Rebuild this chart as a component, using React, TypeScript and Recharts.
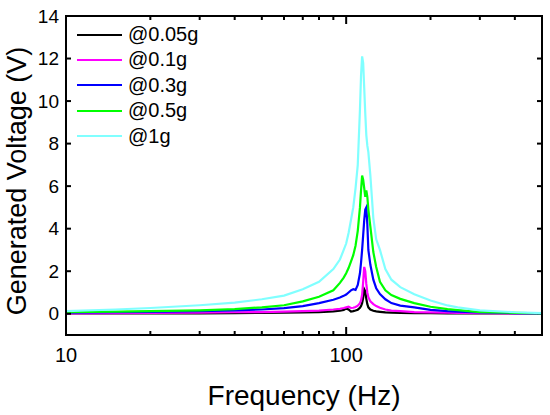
import React from "react";
import { LineChart, Line, XAxis, YAxis, ReferenceLine } from "recharts";

// frequency grid (Hz) shared by every sweep
const freqs = [
  10, 15, 20, 30, 40, 50, 60, 70, 80, 90, 95, 98, 100, 102, 104, 106, 108, 110,
  112, 113, 114, 115, 116, 117, 118, 119, 120, 122, 125, 128, 132, 138, 145,
  156, 175, 200, 230, 250, 300, 400, 500,
];

// generated voltage (V) per excitation level
const v005 = [
  0.01, 0.01, 0.02, 0.02, 0.03, 0.04, 0.05, 0.06, 0.08, 0.11, 0.14, 0.18, 0.24,
  0.2, 0.1, 0.12, 0.15, 0.19, 0.28, 0.36, 0.5, 0.75, 1.15, 1.05, 0.7, 0.45,
  0.3, 0.2, 0.14, 0.11, 0.09, 0.06, 0.05, 0.04, 0.03, 0.03, 0.02, 0.02, 0.02,
  0.01, 0.01,
];
const v01 = [
  0.02, 0.03, 0.04, 0.05, 0.07, 0.08, 0.1, 0.12, 0.15, 0.2, 0.23, 0.27, 0.3,
  0.33, 0.27, 0.28, 0.32, 0.38, 0.5, 0.62, 0.9, 1.5, 2.2, 2.0, 1.4, 1.0, 0.78,
  0.58, 0.45, 0.36, 0.28, 0.2, 0.15, 0.12, 0.08, 0.06, 0.05, 0.04, 0.03, 0.02,
  0.01,
];
const v03 = [
  0.05, 0.07, 0.09, 0.12, 0.16, 0.2, 0.26, 0.36, 0.5, 0.66, 0.76, 0.84, 0.9,
  1.0, 1.1, 1.15, 1.12, 1.35, 1.9, 2.4, 3.0, 3.7, 4.4, 4.9, 5.0, 4.2, 3.0, 2.3,
  1.6, 1.2, 0.92, 0.68, 0.5, 0.38, 0.3, 0.18, 0.12, 0.1, 0.06, 0.03, 0.02,
];
const v05 = [
  0.08, 0.1, 0.12, 0.16, 0.22, 0.3, 0.4, 0.58, 0.8, 1.1, 1.45, 1.7, 1.9, 2.15,
  2.45, 2.75, 3.2, 3.9, 5.0, 5.8, 6.5, 6.3, 5.9, 5.5, 5.8, 5.5, 4.9, 4.1, 2.9,
  2.2, 1.5, 1.1, 0.88, 0.7, 0.5, 0.33, 0.22, 0.17, 0.08, 0.04, 0.02,
];
const v1 = [
  0.12, 0.2, 0.27, 0.4, 0.52, 0.68, 0.85, 1.15, 1.5, 2.1, 2.55, 3.0, 3.3, 3.8,
  4.4, 5.0, 5.9, 7.0, 9.6, 11.2, 12.1, 11.8, 10.6, 9.4, 8.4, 7.9, 7.6, 6.5,
  4.5, 3.5, 3.0, 2.1, 1.6, 1.25, 0.92, 0.62, 0.39, 0.3, 0.16, 0.07, 0.03,
];

const seriesNames = ["@0.05g", "@0.1g", "@0.3g", "@0.5g", "@1g"];
const seriesKeys = ["g005", "g01", "g03", "g05", "g1"];
const seriesColors = ["#000000", "#ff00ff", "#0000ff", "#00ff00", "#80ffff"];
const seriesValues = [v005, v01, v03, v05, v1];

const xTicks = [10, 20, 30, 40, 50, 60, 70, 80, 90, 100, 200, 300, 400, 500];
const xLabeled = [10, 100];
const yTicks = [0, 2, 4, 6, 8, 10, 12, 14];

const data = freqs.map((f, i) => {
  const row: Record<string, number> = { f };
  seriesKeys.forEach((k, s) => {
    row[k] = seriesValues[s][i];
  });
  return row;
});

const BottomTick = (props: any) => {
  const { x, y, payload } = props;
  const major = xLabeled.includes(payload.value);
  return (
    <g>
      <path d={`M${x},${y}V${y - (major ? 8 : 4)}`} stroke="#000" strokeWidth={2} fill="none" />
      {major && (
        <text x={x} y={y + 27} textAnchor="middle" fontSize={20} fill="#000">
          {payload.value}
        </text>
      )}
    </g>
  );
};

const LeftTick = (props: any) => {
  const { x, y, payload } = props;
  return (
    <g>
      <path d={`M${x},${y}H${x + 5}`} stroke="#000" strokeWidth={2} fill="none" />
      <text x={x - 7} y={y} dy="0.35em" textAnchor="end" fontSize={19} fill="#000">
        {payload.value}
      </text>
    </g>
  );
};

// short inward tick on the top edge, at the reference line's x
const topTickShape = (len: number) => (p: any) => {
  const top = Math.min(p.y1, p.y2);
  return <path d={`M${p.x1},${top}V${top + len}`} stroke="#000" strokeWidth={2} fill="none" />;
};

// short inward tick on the right edge, at the reference line's y
const rightTickShape = (p: any) => {
  const right = Math.max(p.x1, p.x2);
  return <path d={`M${right},${p.y1}H${right - 5}`} stroke="#000" strokeWidth={2} fill="none" />;
};

const LegendBox = () => (
  <div style={{ position: "absolute", left: 77, top: 22, fontSize: 20, lineHeight: "25.4px" }}>
    {seriesNames.map((n, i) => (
      <div key={n} style={{ display: "flex", alignItems: "center", height: 25.4 }}>
        <div style={{ width: 45, height: 2, background: seriesColors[i], marginRight: 6 }} />
        <span>{n}</span>
      </div>
    ))}
  </div>
);

export default function App() {
  return (
    <div
      style={{
        position: "absolute",
        left: 0,
        top: 0,
        width: 550,
        height: 415,
        background: "#fff",
        fontFamily: "Liberation Sans, Arial, sans-serif",
      }}
    >
      <LineChart width={550} height={415} data={data} margin={{ top: 16, right: 8, bottom: 0, left: 0 }}>
        <XAxis
          xAxisId="b"
          dataKey="f"
          type="number"
          scale="log"
          domain={[10, 500]}
          allowDataOverflow
          ticks={xTicks}
          interval={0}
          height={80}
          tickSize={0}
          tickMargin={0}
          stroke="#000"
          tick={<BottomTick />}
          label={{
            content: () => (
              <text x={304} y={405} textAnchor="middle" fontSize={28} fill="#000">
                Frequency (Hz)
              </text>
            ),
          }}
        />
        <YAxis
          yAxisId="l"
          type="number"
          domain={[-1, 14]}
          ticks={yTicks}
          interval={0}
          width={66}
          tickSize={0}
          tickMargin={0}
          stroke="#000"
          tick={<LeftTick />}
          label={{
            content: () => (
              <text
                x={26}
                y={181}
                transform="rotate(-90, 26, 181)"
                textAnchor="middle"
                fontSize={27}
                fill="#000"
              >
                Generated Voltage (V)
              </text>
            ),
          }}
        />
        <ReferenceLine xAxisId="b" yAxisId="l" y={14} stroke="#000" strokeWidth={2} />
        <ReferenceLine xAxisId="b" yAxisId="l" x={500} stroke="#000" strokeWidth={2} />
        {xTicks.map((t) => (
          <ReferenceLine
            key={`tt${t}`}
            xAxisId="b"
            yAxisId="l"
            x={t}
            shape={topTickShape(xLabeled.includes(t) ? 8 : 4)}
          />
        ))}
        {yTicks.map((t) => (
          <ReferenceLine key={`rt${t}`} xAxisId="b" yAxisId="l" y={t} shape={rightTickShape} />
        ))}
        {seriesKeys.map((k, i) => (
          <Line
            key={k}
            xAxisId="b"
            yAxisId="l"
            type="linear"
            dataKey={k}
            name={seriesNames[i]}
            stroke={seriesColors[i]}
            strokeWidth={2.2}
            dot={false}
            isAnimationActive={false}
          />
        ))}
      </LineChart>
      {/* plot frame overlay */}
      <div
        style={{
          position: "absolute",
          left: 65,
          top: 15,
          width: 478,
          height: 321,
          boxSizing: "border-box",
          border: "2px solid #000",
          pointerEvents: "none",
        }}
      />
      <LegendBox />
    </div>
  );
}
